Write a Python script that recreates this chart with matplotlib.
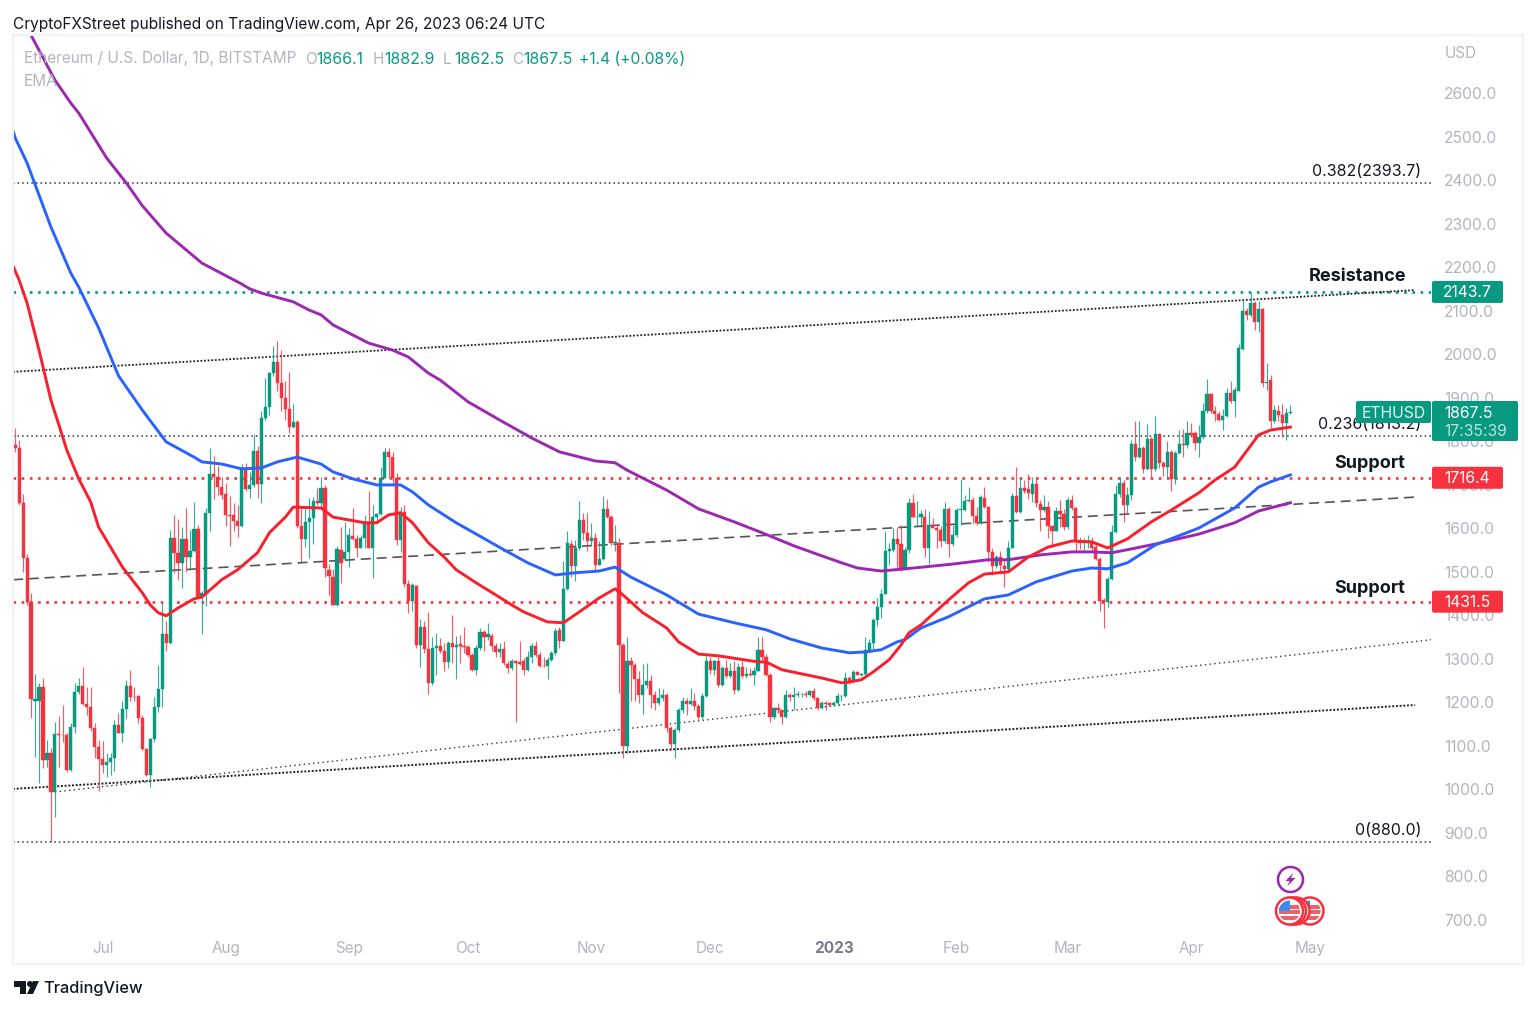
# -*- coding: utf-8 -*-
import matplotlib
matplotlib.use('Agg')
import matplotlib.pyplot as plt
from matplotlib.patches import FancyBboxPatch, Circle, Rectangle, Polygon

plt.rcParams['font.family'] = ['Inter', 'DejaVu Sans']

# daily candles, first one is 9 Jun 2022, last one 26 Apr 2023
opens = [
    1792, 1784, 1659, 1531, 1431, 1203, 1204, 1235, 1068, 1084, 995, 1127, 1125, 1125, 1045, 1143, 1223, 1238, 1196, 1189,
    1140, 1097, 1069, 1056, 1064, 1071, 1148, 1130, 1184, 1238, 1213, 1215, 1163, 1092, 1033, 1115, 1190, 1230, 1357, 1337,
    1579, 1543, 1521, 1575, 1535, 1549, 1598, 1443, 1451, 1636, 1725, 1719, 1696, 1679, 1631, 1630, 1617, 1605, 1736, 1690,
    1700, 1778, 1703, 1853, 1880, 1958, 1983, 1935, 1900, 1875, 1834, 1845, 1605, 1575, 1615, 1625, 1664, 1658, 1694, 1504,
    1489, 1425, 1550, 1530, 1545, 1582, 1575, 1556, 1579, 1615, 1556, 1627, 1633, 1717, 1776, 1765, 1717, 1573, 1638, 1472,
    1432, 1468, 1332, 1374, 1322, 1244, 1325, 1330, 1317, 1292, 1336, 1327, 1335, 1330, 1327, 1309, 1275, 1324, 1362, 1350,
    1352, 1330, 1315, 1322, 1288, 1279, 1294, 1292, 1294, 1275, 1304, 1330, 1309, 1284, 1283, 1298, 1313, 1367, 1342, 1460,
    1564, 1514, 1554, 1619, 1589, 1570, 1577, 1516, 1529, 1644, 1626, 1566, 1566, 1332, 1099, 1294, 1286, 1253, 1217, 1240,
    1250, 1217, 1198, 1210, 1216, 1141, 1105, 1137, 1183, 1202, 1197, 1204, 1192, 1166, 1215, 1294, 1275, 1294, 1240, 1279,
    1260, 1271, 1229, 1281, 1261, 1265, 1263, 1273, 1320, 1304, 1263, 1167, 1187, 1182, 1166, 1217, 1213, 1217, 1219, 1219,
    1216, 1225, 1210, 1187, 1198, 1198, 1195, 1198, 1214, 1214, 1256, 1250, 1269, 1263, 1265, 1321, 1337, 1390, 1419, 1450,
    1549, 1551, 1575, 1564, 1506, 1551, 1658, 1626, 1626, 1626, 1555, 1608, 1601, 1597, 1570, 1644, 1564, 1585, 1643, 1643,
    1663, 1665, 1629, 1612, 1670, 1649, 1545, 1513, 1535, 1514, 1506, 1556, 1675, 1637, 1693, 1690, 1680, 1702, 1656, 1643,
    1650, 1606, 1593, 1641, 1633, 1604, 1665, 1647, 1570, 1566, 1567, 1572, 1558, 1529, 1435, 1430, 1483, 1591, 1679, 1704,
    1654, 1677, 1794, 1765, 1784, 1736, 1805, 1736, 1817, 1750, 1742, 1775, 1713, 1774, 1794, 1792, 1820, 1819, 1796, 1811,
    1870, 1909, 1871, 1863, 1850, 1859, 1911, 1892, 1917, 2012, 2101, 2091, 2119, 2075, 2104, 1935, 1941, 1848, 1871, 1861,
    1842, 1866.1,
]
highs = [
    1830, 1803, 1679, 1540, 1451, 1265, 1244, 1255, 1114, 1094, 1156, 1169, 1193, 1129, 1152, 1244, 1255, 1281, 1236, 1236,
    1153, 1114, 1112, 1083, 1083, 1160, 1175, 1202, 1252, 1275, 1236, 1217, 1171, 1096, 1118, 1213, 1286, 1428, 1386, 1596,
    1630, 1621, 1604, 1646, 1596, 1661, 1608, 1455, 1646, 1784, 1766, 1743, 1719, 1704, 1674, 1658, 1654, 1749, 1751, 1730,
    1818, 1790, 1870, 1945, 1960, 2020, 2031, 2010, 1940, 1960, 1885, 1850, 1651, 1646, 1669, 1673, 1692, 1719, 1700, 1518,
    1506, 1559, 1604, 1615, 1600, 1646, 1585, 1585, 1631, 1686, 1654, 1635, 1742, 1786, 1786, 1776, 1727, 1650, 1654, 1482,
    1474, 1470, 1391, 1386, 1407, 1350, 1359, 1347, 1336, 1340, 1401, 1353, 1355, 1373, 1332, 1313, 1332, 1370, 1367, 1383,
    1359, 1336, 1336, 1340, 1294, 1299, 1298, 1342, 1301, 1317, 1336, 1340, 1315, 1305, 1305, 1317, 1371, 1374, 1524, 1594,
    1574, 1574, 1663, 1635, 1636, 1612, 1589, 1570, 1675, 1667, 1631, 1608, 1577, 1336, 1350, 1304, 1290, 1271, 1289, 1290,
    1263, 1227, 1233, 1230, 1221, 1145, 1141, 1187, 1213, 1210, 1233, 1221, 1197, 1221, 1307, 1305, 1298, 1305, 1283, 1298,
    1290, 1294, 1290, 1294, 1281, 1279, 1281, 1350, 1350, 1311, 1267, 1189, 1198, 1185, 1229, 1221, 1236, 1227, 1221, 1225,
    1229, 1233, 1213, 1202, 1202, 1200, 1202, 1221, 1217, 1269, 1260, 1274, 1272, 1268, 1350, 1345, 1394, 1440, 1460, 1593,
    1566, 1600, 1600, 1608, 1558, 1670, 1679, 1664, 1643, 1644, 1641, 1624, 1608, 1605, 1660, 1649, 1608, 1647, 1714, 1677,
    1695, 1673, 1650, 1677, 1696, 1652, 1555, 1539, 1547, 1528, 1570, 1681, 1742, 1719, 1712, 1725, 1719, 1715, 1666, 1677,
    1662, 1608, 1650, 1666, 1644, 1673, 1677, 1650, 1581, 1578, 1585, 1581, 1566, 1535, 1440, 1489, 1608, 1700, 1719, 1712,
    1696, 1803, 1846, 1846, 1790, 1840, 1811, 1859, 1820, 1754, 1800, 1781, 1779, 1827, 1828, 1846, 1842, 1825, 1838, 1889,
    1943, 1911, 1882, 1869, 1874, 1922, 1938, 1925, 2024, 2129, 2106, 2141, 2122, 2122, 2106, 1981, 1953, 1884, 1884, 1886,
    1876, 1882.9,
]
lows = [
    1776, 1654, 1500, 1424, 1163, 1074, 1014, 1049, 1052, 880, 936, 1052, 1110, 1041, 1043, 1130, 1220, 1194, 1171, 1135,
    1071, 997, 1037, 1028, 1033, 1043, 1129, 1110, 1163, 1202, 1202, 1152, 1091, 1031, 1006, 1110, 1179, 1190, 1317, 1335,
    1497, 1481, 1464, 1500, 1504, 1546, 1439, 1357, 1422, 1594, 1667, 1677, 1667, 1605, 1559, 1593, 1581, 1604, 1687, 1669,
    1696, 1669, 1658, 1850, 1860, 1950, 1915, 1870, 1850, 1820, 1830, 1600, 1523, 1558, 1531, 1564, 1654, 1650, 1489, 1447,
    1424, 1422, 1474, 1527, 1512, 1573, 1535, 1554, 1554, 1556, 1487, 1612, 1630, 1717, 1715, 1700, 1562, 1545, 1466, 1406,
    1409, 1325, 1281, 1313, 1220, 1240, 1263, 1313, 1271, 1279, 1290, 1253, 1290, 1313, 1304, 1271, 1263, 1321, 1317, 1344,
    1317, 1305, 1305, 1286, 1267, 1275, 1156, 1286, 1263, 1271, 1290, 1305, 1281, 1281, 1253, 1294, 1309, 1325, 1340, 1458,
    1489, 1480, 1550, 1573, 1547, 1562, 1501, 1516, 1527, 1623, 1562, 1547, 1221, 1072, 1083, 1202, 1202, 1198, 1173, 1233,
    1187, 1183, 1194, 1202, 1133, 1091, 1072, 1133, 1175, 1171, 1194, 1183, 1158, 1161, 1213, 1266, 1263, 1236, 1238, 1256,
    1256, 1220, 1227, 1256, 1256, 1260, 1240, 1271, 1298, 1260, 1156, 1161, 1176, 1150, 1164, 1202, 1183, 1213, 1213, 1213,
    1215, 1206, 1183, 1184, 1183, 1192, 1192, 1194, 1202, 1212, 1243, 1245, 1262, 1260, 1263, 1316, 1320, 1375, 1395, 1449,
    1516, 1545, 1505, 1501, 1505, 1543, 1623, 1604, 1604, 1535, 1519, 1600, 1555, 1558, 1566, 1534, 1560, 1581, 1608, 1639,
    1660, 1612, 1608, 1610, 1646, 1522, 1493, 1509, 1497, 1465, 1501, 1554, 1635, 1635, 1681, 1667, 1660, 1650, 1595, 1638,
    1577, 1558, 1593, 1604, 1597, 1598, 1643, 1545, 1552, 1551, 1555, 1547, 1528, 1409, 1371, 1419, 1481, 1589, 1673, 1614,
    1635, 1666, 1754, 1763, 1728, 1735, 1715, 1733, 1738, 1721, 1719, 1687, 1702, 1771, 1765, 1784, 1811, 1781, 1765, 1805,
    1866, 1865, 1846, 1846, 1827, 1857, 1889, 1856, 1915, 2010, 2079, 2085, 2056, 2052, 1926, 1918, 1830, 1843, 1846, 1811,
    1804, 1862.5,
]
closes = [
    1784, 1659, 1531, 1431, 1207, 1207, 1236, 1068, 1084, 995, 1127, 1125, 1124, 1045, 1143, 1223, 1238, 1196, 1189, 1140,
    1097, 1069, 1056, 1064, 1071, 1148, 1130, 1184, 1238, 1213, 1212, 1163, 1092, 1033, 1115, 1190, 1230, 1357, 1337, 1579,
    1543, 1521, 1575, 1535, 1549, 1598, 1443, 1451, 1636, 1725, 1719, 1696, 1677, 1631, 1628, 1617, 1605, 1738, 1690, 1700,
    1778, 1703, 1853, 1880, 1958, 1983, 1935, 1900, 1875, 1834, 1845, 1605, 1575, 1615, 1625, 1664, 1658, 1694, 1508, 1491,
    1425, 1552, 1521, 1545, 1585, 1575, 1556, 1579, 1615, 1556, 1627, 1633, 1717, 1775, 1765, 1717, 1573, 1638, 1472, 1432,
    1470, 1332, 1374, 1322, 1244, 1325, 1330, 1317, 1292, 1336, 1327, 1332, 1330, 1327, 1309, 1275, 1324, 1362, 1350, 1357,
    1330, 1315, 1322, 1290, 1279, 1294, 1290, 1288, 1275, 1304, 1330, 1309, 1284, 1283, 1298, 1313, 1363, 1342, 1460, 1566,
    1514, 1554, 1619, 1589, 1570, 1577, 1516, 1529, 1644, 1626, 1566, 1568, 1332, 1099, 1294, 1286, 1253, 1217, 1240, 1250,
    1217, 1198, 1210, 1216, 1141, 1105, 1137, 1183, 1202, 1197, 1204, 1192, 1166, 1215, 1294, 1275, 1294, 1240, 1279, 1260,
    1271, 1229, 1281, 1261, 1265, 1263, 1273, 1320, 1304, 1263, 1167, 1187, 1182, 1166, 1217, 1213, 1217, 1219, 1219, 1216,
    1225, 1210, 1187, 1198, 1197, 1195, 1198, 1214, 1214, 1256, 1250, 1269, 1264, 1265, 1321, 1337, 1390, 1419, 1450, 1549,
    1552, 1575, 1564, 1506, 1551, 1658, 1626, 1626, 1632, 1555, 1608, 1601, 1597, 1570, 1644, 1564, 1585, 1643, 1645, 1663,
    1665, 1629, 1612, 1672, 1649, 1545, 1513, 1535, 1516, 1506, 1556, 1675, 1637, 1693, 1687, 1681, 1702, 1658, 1643, 1650,
    1606, 1593, 1641, 1633, 1604, 1665, 1647, 1570, 1566, 1569, 1572, 1555, 1529, 1434, 1430, 1483, 1591, 1679, 1704, 1654,
    1677, 1794, 1765, 1784, 1736, 1805, 1736, 1817, 1750, 1742, 1775, 1713, 1774, 1794, 1792, 1820, 1815, 1796, 1811, 1870,
    1909, 1871, 1863, 1850, 1859, 1911, 1892, 1918, 2014, 2101, 2091, 2119, 2075, 2104, 1935, 1937, 1848, 1872, 1861, 1842,
    1866, 1867.5,
]

# EMA lines (candle number, price)
ema50_days = [-1, 1, 3, 6, 9, 11, 13, 16, 19, 21, 24, 27, 32, 34, 36, 38, 41, 45, 47, 52, 56, 61, 64, 68, 70, 77, 80, 88, 91, 94,
              97, 100, 102, 104, 108, 111, 116, 121, 125, 128, 134, 138, 142, 147, 151, 153, 158, 164, 167, 172, 177, 187, 189, 193,
              203, 208, 210, 213, 216, 220, 223, 225, 228, 235, 240, 244, 250, 255, 260, 266, 271, 275, 280, 286, 291, 298, 302,
              307, 313, 316, 321]
ema50_vals = [2213, 2171, 2118, 2010, 1895, 1838, 1780, 1714, 1661, 1603, 1557, 1511, 1452, 1424, 1406, 1399, 1417, 1438, 1442, 1482,
              1505, 1544, 1590, 1626, 1649, 1647, 1626, 1613, 1613, 1631, 1636, 1613, 1590, 1567, 1534, 1505, 1475, 1447, 1424, 1408,
              1385, 1383, 1408, 1440, 1461, 1447, 1406, 1371, 1339, 1311, 1307, 1293, 1293, 1275, 1256, 1245, 1247, 1252, 1270, 1298,
              1332, 1360, 1378, 1436, 1475, 1495, 1500, 1534, 1557, 1571, 1569, 1555, 1576, 1615, 1642, 1682, 1711, 1741, 1815, 1826,
              1833]
ema100_days = [-1, 0, 3, 9, 14, 16, 21, 26, 32, 38, 45, 47, 52, 57, 62, 66, 71, 77, 80, 85, 91, 97, 100, 104, 111, 123, 129, 136,
               141, 147, 151, 155, 164, 172, 181, 189, 195, 203, 210, 214, 218, 222, 224, 228, 235, 244, 250, 257, 266, 271, 275, 280,
               287, 298, 307, 313, 316, 321]
ema100_vals = [2528, 2498, 2440, 2293, 2187, 2155, 2061, 1951, 1872, 1799, 1764, 1753, 1748, 1737, 1739, 1753, 1764, 1748, 1730,
               1714, 1700, 1700, 1684, 1654, 1613, 1551, 1521, 1493, 1498, 1502, 1511, 1488, 1447, 1403, 1383, 1367, 1346, 1325, 1314,
               1316, 1321, 1339, 1344, 1371, 1397, 1438, 1447, 1477, 1502, 1509, 1507, 1521, 1562, 1601, 1647, 1695, 1707, 1723]
ema200_days = [3, 10, 14, 16, 23, 28, 32, 38, 47, 57, 59, 62, 70, 74, 77, 80, 89, 95, 99, 104, 107, 114, 122, 130, 137, 146, 151, 154,
               164, 172, 181, 188, 196, 203, 208, 212, 218, 224, 236, 245, 250, 258, 266, 271, 276, 280, 287, 298, 307, 313, 321]
ema200_vals = [2751, 2631, 2578, 2555, 2452, 2394, 2342, 2279, 2210, 2162, 2151, 2141, 2121, 2102, 2091, 2068, 2026, 2010, 1994, 1957,
               1941, 1891, 1849, 1808, 1776, 1755, 1751, 1734, 1688, 1645, 1615, 1590, 1560, 1537, 1521, 1509, 1502, 1507, 1518,
               1528, 1528, 1539, 1546, 1546, 1544, 1551, 1564, 1587, 1613, 1640, 1659]

# drawn levels and trend lines
fib_levels = [2393.7, 1813.2, 880.0]
fib_labels = ['0.382(2393.7)', '0.236(1813.2)', '0(880.0)']
resistance_level = 2143.7
support_levels = [1716.4, 1431.5]
channel_top_days, channel_top_vals = [-0.55, 352.4], [1960, 2148]
channel_low_days, channel_low_vals = [-0.55, 352.4], [1001, 1194]
thin_days, thin_vals = [10, 356.4], [994, 1344]
mid_days, mid_vals = [-0.55, 352.4], [1482, 1672]

price_ticks = [700, 800, 900, 1000, 1100, 1200, 1300, 1400, 1500, 1600, 1700, 1800, 1900, 2000, 2100, 2200, 2300, 2400, 2500, 2600]
month_days = [22, 53, 84, 114, 145, 175, 206, 237, 265, 296, 326]
month_labels = ['Jul', 'Aug', 'Sep', 'Oct', 'Nov', 'Dec', '2023', 'Feb', 'Mar', 'Apr', 'May']

GREEN = '#089981'
RED = '#F7323F'
GREY = '#B2B5BE'
W, H = 1536, 1010

fig = plt.figure(figsize=(W / 100, H / 100), dpi=100, facecolor='white')
ax = fig.add_axes([13 / W, (H - 932) / H, 1418 / W, 897 / H])
ax.set_xlim(-0.55, 356.4)
ax.set_ylim(672, 2734.5)
for s in ax.spines.values():
    s.set_visible(False)

# lines under the candles
for lvl in fib_levels:
    ax.axhline(lvl, color='#333333', lw=1.1, ls=(0, (1, 2)), zorder=1)
ax.axhline(resistance_level, color=GREEN, lw=1.9, ls=(0, (1, 2.1)), zorder=1)
for lvl in support_levels:
    ax.axhline(lvl, color=RED, lw=1.9, ls=(0, (1, 2.1)), zorder=1)
ax.plot(channel_top_days, channel_top_vals, color='#222222', lw=1.3, ls=(0, (1, 1)), zorder=1)
ax.plot(channel_low_days, channel_low_vals, color='#222222', lw=1.4, ls=(0, (1, 0.9)), zorder=1)
ax.plot(thin_days, thin_vals, color='#333333', lw=1.0, ls=(0, (1, 2.4)), zorder=1)
ax.plot(mid_days, mid_vals, color='#555555', lw=1.2, ls=(0, (6, 3.5)), zorder=1)

# candles
days = list(range(len(closes)))
colors = [GREEN if c >= o else RED for o, c in zip(opens, closes)]
ax.vlines(days, lows, highs, colors=colors, lw=0.85, alpha=0.8, zorder=2)
ax.bar(days, [abs(c - o) for o, c in zip(opens, closes)], bottom=[min(o, c) for o, c in zip(opens, closes)],
       width=0.8, color=colors, edgecolor=colors, linewidth=0.3, zorder=3)

ax.plot(ema200_days, ema200_vals, color='#9C27B0', lw=2.1, zorder=4)
ax.plot(ema100_days, ema100_vals, color='#2962FF', lw=2.1, zorder=5)
ax.plot(ema50_days, ema50_vals, color='#F7202C', lw=2.1, zorder=6)

ax.yaxis.tick_right()
ax.set_yticks(price_ticks)
ax.set_yticklabels(['%.1f' % p for p in price_ticks])
ax.tick_params(axis='y', length=0, pad=9.5, labelsize=11.3, labelcolor=GREY)
ax.set_xticks(month_days)
ax.set_xticklabels(month_labels)
ax.tick_params(axis='x', length=0, pad=6.5, labelsize=11, labelcolor=GREY)
year_label = ax.get_xticklabels()[month_labels.index('2023')]
year_label.set_fontweight('bold')
year_label.set_color('#787B86')

# everything else goes on a pixel overlay
ov = fig.add_axes([0, 0, 1, 1], facecolor='none')
ov.set_xlim(0, W)
ov.set_ylim(H, 0)
ov.axis('off')


def price_y(v):
    return H - ax.transData.transform((0, v))[1]


def badge(x0, x1, y0, y1, color):
    ov.add_patch(FancyBboxPatch((x0, y0), x1 - x0, y1 - y0, boxstyle='round,pad=0,rounding_size=2',
                                fc=color, ec='none', zorder=10))


def coin(cx, cy, z):
    ov.add_patch(Circle((cx, cy), 13.5, fc='white', ec=RED, lw=1.8, zorder=z))
    inner = Circle((cx, cy), 10.5, fc='white', ec='none', zorder=z + 0.1)
    ov.add_patch(inner)
    for off in (-4, 1, 7):
        band = Rectangle((cx - 12, cy + off - 1.8), 24, 3.6, fc='#F0606A', ec='none', zorder=z + 0.2)
        ov.add_patch(band)
        band.set_clip_path(inner)
    blue = Rectangle((cx - 12, cy - 11), 12, 11, fc='#3D8BF0', ec='none', zorder=z + 0.3)
    ov.add_patch(blue)
    blue.set_clip_path(inner)


# frame
ov.add_patch(Rectangle((13, 35), 1510, 929, fc='none', ec='#F0F3FA', lw=1.5, zorder=1))

ov.text(13, 24, 'CryptoFXStreet published on TradingView.com, Apr 26, 2023 06:24 UTC', fontsize=11.1,
        color='#131722', va='center', ha='left')
ov.text(24, 59, 'Ethereum / U.S. Dollar, 1D, BITSTAMP', fontsize=11.05, color=GREY, va='center')
for x, lab, val in [(305, 'O', '1866.1'), (373, 'H', '1882.9'), (443, 'L', '1862.5'), (512, 'C', '1867.5')]:
    ov.text(x, 59, lab, fontsize=11.05, color=GREY, va='center')
    ov.text(x + 11.5, 59, val, fontsize=11.4, color=GREEN, va='center')
ov.text(579, 59, '+1.4 (+0.08%)', fontsize=11.25, color=GREEN, va='center')
ov.text(24, 81, 'EMA', fontsize=11.05, color=GREY, va='center')
ov.text(1445, 53, 'USD', fontsize=11, color=GREY, va='center')

# fib labels, sit above their lines
for lvl, lab in zip(fib_levels, fib_labels):
    ov.text(1421, price_y(lvl) - 11.5, lab, fontsize=11.5, color='#131722', ha='right', va='center', zorder=8)

ov.text(1358, 276.5, 'Resistance', fontsize=13, fontweight='bold', color='#131722', ha='center', va='center')
ov.text(1370, 463.5, 'Support', fontsize=13, fontweight='bold', color='#131722', ha='center', va='center')
ov.text(1370, 588.5, 'Support', fontsize=13, fontweight='bold', color='#131722', ha='center', va='center')

# price badges
for lvl, col in [(resistance_level, GREEN), (support_levels[0], RED), (support_levels[1], RED)]:
    y = price_y(lvl)
    badge(1432, 1503, y - 11, y + 11, col)
    ov.text(1467.5, y + 1, '%.1f' % lvl, fontsize=11.3, color='white', ha='center', va='center', zorder=11)
badge(1356, 1431, 401, 423, GREEN)
ov.text(1393.5, 413, 'ETHUSD', fontsize=11.3, color='#E3F2EF', ha='center', va='center', zorder=11)
badge(1432, 1518, 401, 441, GREEN)
ov.text(1444, 413, '1867.5', fontsize=11.3, color='white', ha='left', va='center', zorder=11)
ov.text(1444, 431.5, '17:35:39', fontsize=11.3, color='#BFE3DC', ha='left', va='center', zorder=11)

# event icons
ov.add_patch(Circle((1290.5, 879.5), 12.5, fc='white', ec='#9C27B0', lw=1.8, zorder=11))
ov.add_patch(Polygon([(1293, 873), (1285.5, 881), (1289.5, 881), (1287.5, 886), (1295.5, 878), (1291, 878)],
                     fc='#9C27B0', ec='none', zorder=12))
for n, cx in enumerate((1310, 1296, 1292.5, 1289.5)):
    coin(cx, 911, 11 + n)

# TradingView mark
ov.add_patch(Polygon([(14, 981), (26, 981), (26, 994), (20, 994), (20, 987), (14, 987)], fc='#131722', ec='none'))
ov.add_patch(Circle((30, 984), 3, fc='#131722', ec='none'))
ov.add_patch(Polygon([(33, 981), (39, 981), (33, 994), (27, 994)], fc='#131722', ec='none'))
ov.text(43, 988, 'TradingView', fontsize=11.8, color='#131722', va='center', fontweight='medium')

fig.savefig('out.png', dpi=100)
